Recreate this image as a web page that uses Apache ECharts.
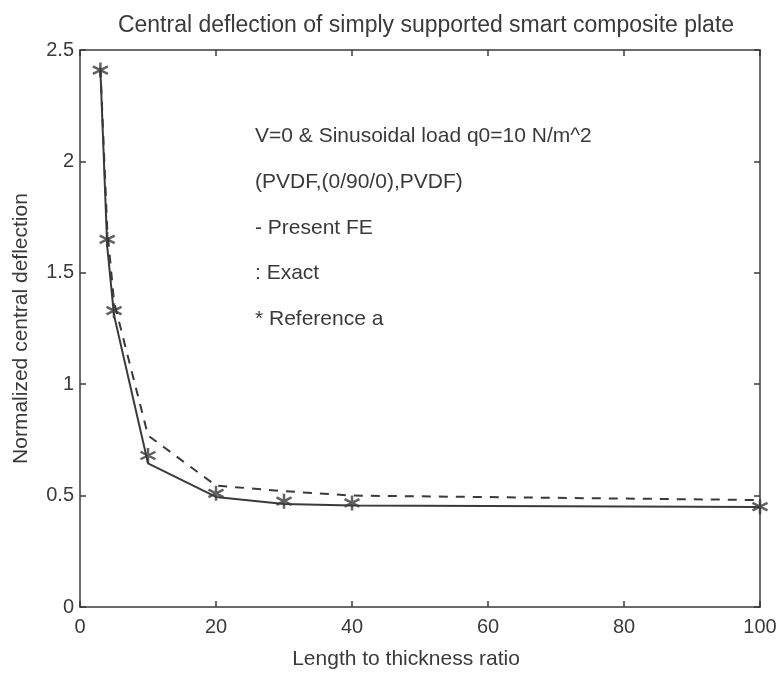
<!DOCTYPE html>
<html>
<head>
<meta charset="utf-8">
<script src="https://cdn.jsdelivr.net/npm/echarts@6/dist/echarts.min.js"></script>
<style>
  html, body { margin: 0; padding: 0; background: #fff; }
  #chart { width: 783px; height: 677px; }
</style>
</head>
<body>
<div id="chart"></div>
<script>
// length to thickness ratio and normalized central deflection
const feX = [3, 4, 5, 10, 20, 30, 40, 100]
const feY = [2.41, 1.62, 1.31, 0.645, 0.494, 0.462, 0.456, 0.449]
const exactX = [3, 4, 5, 10, 20, 30, 40, 100]
const exactY = [2.42, 1.7, 1.37, 0.77, 0.545, 0.52, 0.5, 0.48]
const refX = [3, 4, 5, 10, 20, 30, 40, 100]
const refY = [2.41, 1.65, 1.33, 0.68, 0.51, 0.475, 0.467, 0.45]

const notes = [
  'V=0 & Sinusoidal load q0=10 N/m^2',
  '(PVDF,(0/90/0),PVDF)',
  '- Present FE',
  ': Exact',
  '* Reference a',
]

const ink = '#3a3a3a'
const font = 'Liberation Sans, Arial, sans-serif'
const star = 'path://M0,-10L0,10M-8.66,-5L8.66,5M-8.66,5L8.66,-5'

const zip = (xs, ys) => xs.map((x, i) => [x, ys[i]])

const chart = echarts.init(document.getElementById('chart'))

const axisBase = {
  axisLine: { show: true, onZero: false, lineStyle: { color: ink, width: 1.5 } },
  axisTick: { show: true, inside: true, length: 6, lineStyle: { color: ink, width: 1.5 } },
  splitLine: { show: false },
}

chart.setOption({
  backgroundColor: '#fff',
  animation: false,
  title: {
    text: 'Central deflection of simply supported smart composite plate',
    left: 421,
    textAlign: 'center',
    top: 9,
    textStyle: { color: ink, fontFamily: font, fontSize: 23, fontWeight: 'normal' },
  },
  grid: { left: 80, right: 23, top: 50, bottom: 70 },
  graphic: notes.map((t, i) => ({
    type: 'text',
    left: 255,
    top: 126 + i * 45.7,
    style: { text: t, fill: ink, font: '21px ' + font },
  })),
  xAxis: [
    {
      ...axisBase,
      type: 'value',
      min: 0,
      max: 100,
      interval: 20,
      name: 'Length to thickness ratio',
      nameLocation: 'middle',
      nameGap: 42,
      nameTextStyle: { color: ink, fontFamily: font, fontSize: 21, padding: [0, 28, 0, 0] },
      axisLabel: { color: ink, fontFamily: font, fontSize: 20, margin: 10 },
    },
    {
      ...axisBase,
      type: 'value',
      position: 'top',
      min: 0,
      max: 100,
      interval: 20,
      axisLabel: { show: false },
    },
  ],
  yAxis: [
    {
      ...axisBase,
      type: 'value',
      min: 0,
      max: 2.5,
      interval: 0.5,
      name: 'Normalized central deflection',
      nameLocation: 'middle',
      nameGap: 48,
      nameTextStyle: { color: ink, fontFamily: font, fontSize: 21 },
      axisLabel: { color: ink, fontFamily: font, fontSize: 20, margin: 6 },
    },
    {
      ...axisBase,
      type: 'value',
      position: 'right',
      min: 0,
      max: 2.5,
      interval: 0.5,
      axisLabel: { show: false },
    },
  ],
  series: [
    {
      name: 'Present FE',
      type: 'line',
      data: zip(feX, feY),
      showSymbol: false,
      lineStyle: { color: ink, width: 2, type: 'solid' },
    },
    {
      name: 'Exact',
      type: 'line',
      data: zip(exactX, exactY),
      showSymbol: false,
      lineStyle: { color: ink, width: 2, type: [9, 8] },
    },
    {
      name: 'Reference a',
      type: 'scatter',
      data: zip(refX, refY),
      symbol: star,
      symbolSize: 15,
      itemStyle: { color: 'none', borderColor: ink, borderWidth: 2.5 },
      z: 5,
    },
  ],
})
</script>
</body>
</html>
